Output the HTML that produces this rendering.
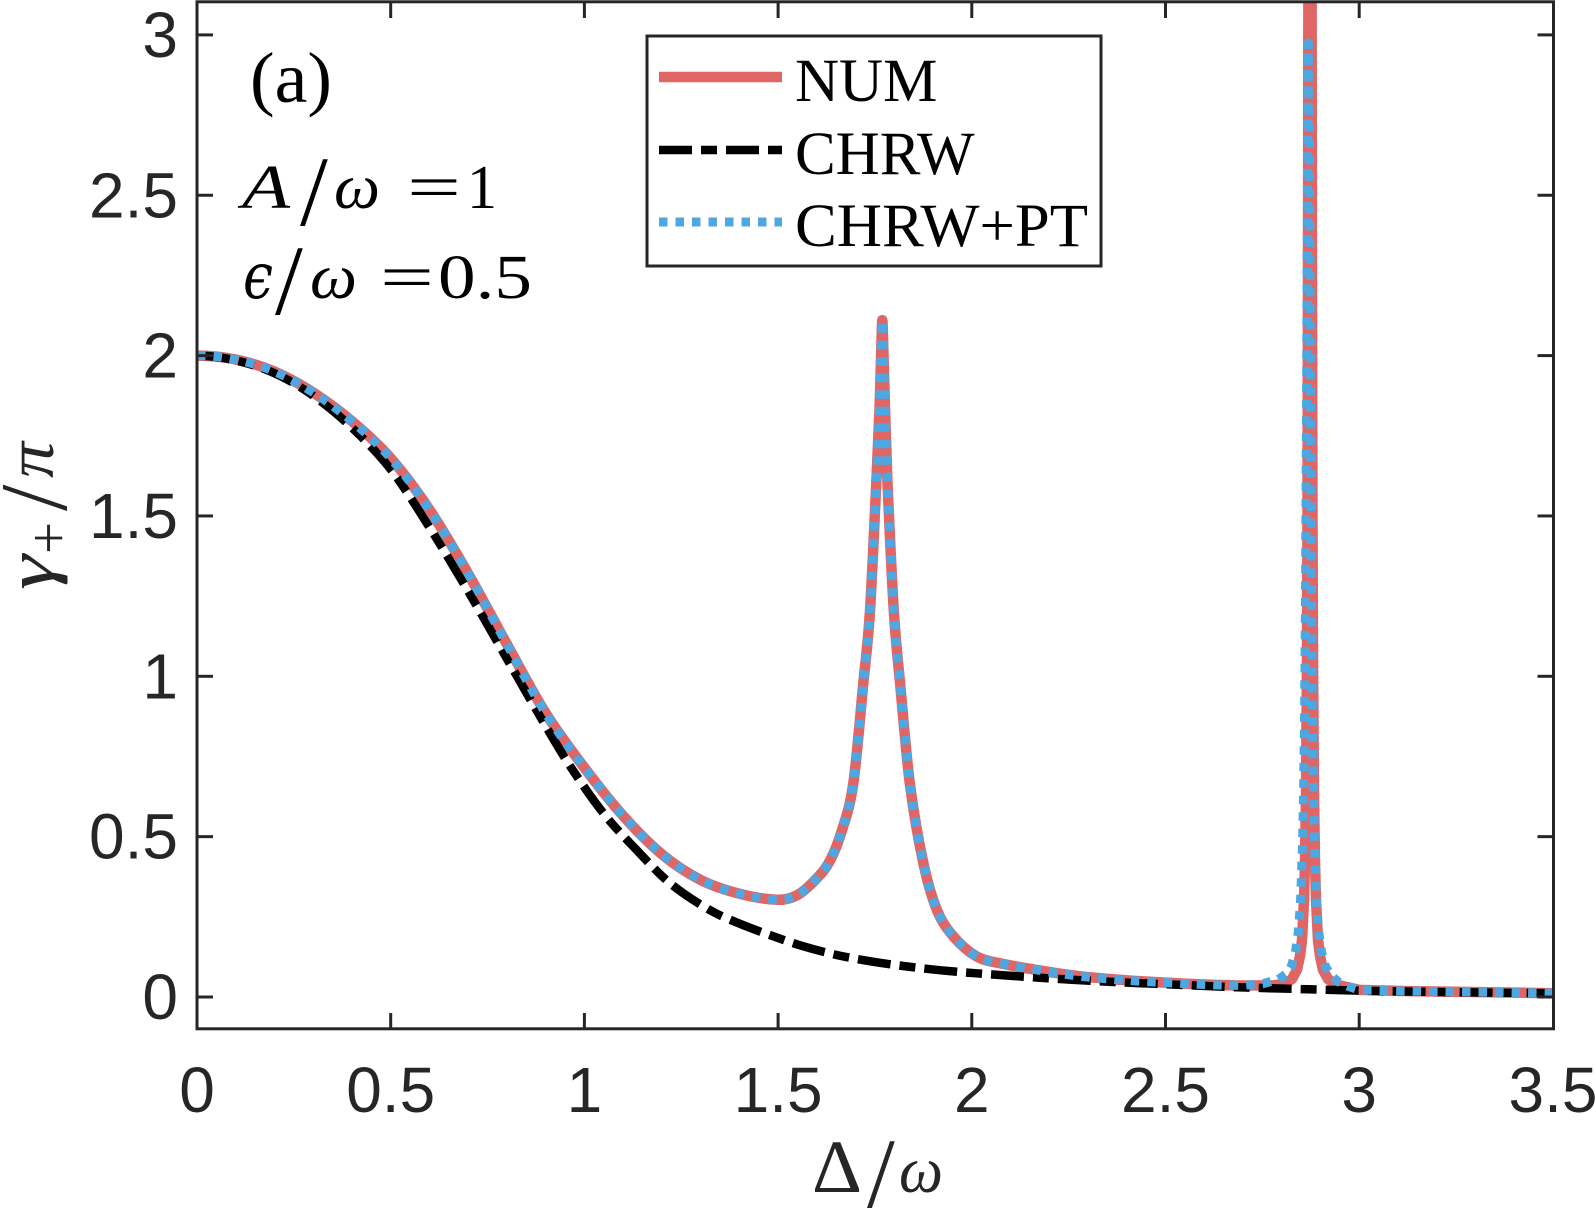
<!DOCTYPE html>
<html>
<head>
<meta charset="utf-8">
<style>
  html, body { margin: 0; padding: 0; background: #ffffff; }
  svg { display: block; }
</style>
</head>
<body>
<svg width="1595" height="1209" viewBox="0 0 1595 1209" xmlns="http://www.w3.org/2000/svg">
  <rect x="0" y="0" width="1595" height="1209" fill="#ffffff"/>
  <defs>
    <clipPath id="ax">
      <rect x="197" y="2" width="1356.5" height="1027"/>
    </clipPath>
  </defs>

  <!-- Curves -->
  <g clip-path="url(#ax)" fill="none" stroke-linejoin="round">
    <!-- NUM -->
    <path stroke="#e06666" stroke-width="10.5" d="M197.0,355.6 C209.9,355.6 222.8,356.84 235.7,359.5 C248.63,362.17 261.57,366.09 274.5,371.6 C287.4,377.09 300.3,384.23 313.2,392.5 C326.13,400.79 339.07,410.34 352.0,421.3 C364.9,432.24 377.8,443.5 390.7,458.2 C403.6,472.9 416.5,490.28 429.4,509.5 C442.33,528.77 455.27,551.23 468.2,573.7 C481.1,596.12 494.0,620.98 506.9,644.2 C519.83,667.47 532.77,692.6 545.7,713.2 C558.6,733.76 571.5,750.6 584.4,767.7 C597.3,784.8 610.2,801.39 623.1,815.8 C636.03,830.25 648.97,843.61 661.9,854.3 C674.8,864.97 687.7,873.34 700.6,879.9 C713.53,886.47 726.47,890.38 739.4,893.7 C752.3,897.01 765.2,899.51 778.1,899.8 C784.57,899.94 791.03,898.59 797.5,895.0 C803.93,891.43 810.37,885.09 816.8,878.3 C821.2,873.66 825.6,869.1 830.0,860.7 C834.0,853.07 838.0,843.47 842.0,830.2 C845.77,817.7 849.53,809.36 853.3,783.4 C856.63,760.43 859.97,717.78 863.3,683.4 C865.5,660.71 867.7,646.37 869.9,612.2 C872.1,578.03 874.3,524.95 876.5,478.4 C877.53,456.54 878.57,434.49 879.6,406.9 C880.1,393.55 880.6,371.64 881.1,355.6 C881.5,342.77 881.9,320.3 882.3,320.3 C882.7,320.3 883.1,342.77 883.5,355.6 C884.0,371.64 884.5,390.75 885.0,406.9 C885.77,431.67 886.53,460.71 887.3,478.4 C889.5,529.15 891.7,576.96 893.9,612.2 C895.97,645.31 898.03,661.14 900.1,683.4 C903.33,718.22 906.57,758.44 909.8,783.4 C914.33,818.4 918.87,842.18 923.4,863.3 C927.93,884.42 932.47,899.08 937.0,910.1 C942.53,923.55 948.07,930.24 953.6,936.7 C961.33,945.73 969.07,952.18 976.8,956.6 C984.57,961.04 992.33,961.52 1000.1,963.3 C1010.03,965.58 1019.97,967.17 1029.9,968.8 C1045.4,971.34 1060.9,973.96 1076.4,975.8 C1093.2,977.79 1110.0,979.02 1126.8,980.3 C1139.7,981.28 1152.6,981.9 1165.5,982.6 C1178.4,983.3 1191.3,984.02 1204.2,984.5 C1217.13,984.98 1230.07,985.35 1243.0,985.5 L1274,985.3 L1285,983.5 L1292,979 L1297,969.7 L1300,956 L1302,940 L1304,900 L1305,862 L1306,795 L1307,655 L1307.5,520 L1308,285 L1308.6,-160 L1311.4,-160 L1312,285 L1312.5,520 L1313,655 L1314,795 L1315,862 L1316,900 L1318,940 L1320,956 L1323,970 L1328,979 L1336,984.5 L1359.2,989.9 C1385,990.7 1411,991.2 1436.7,991.5 C1475,991.9 1514,992.6 1553,993.2"/>
    <!-- CHRW -->
    <path stroke="#000000" stroke-width="8.5" stroke-dasharray="33 9 16 9" stroke-linejoin="miter" d="M197.0,355.6 C209.9,355.6 222.8,357.47 235.7,360.4 C248.63,363.34 261.57,367.31 274.5,373.2 C287.4,379.08 300.3,386.61 313.2,395.7 C326.13,404.81 339.07,415.5 352.0,427.8 C364.9,440.07 377.8,452.83 390.7,469.4 C403.6,485.97 416.5,506.91 429.4,527.2 C442.33,547.54 455.27,569.36 468.2,591.3 C481.1,613.19 494.0,636.28 506.9,658.7 C519.83,681.17 532.77,704.03 545.7,726.0 C553.83,739.82 561.97,753.81 570.1,766.1 C581.2,782.88 592.3,799.2 603.4,813.2 C614.5,827.2 625.6,838.43 636.7,850.1 C647.8,861.77 658.9,874.1 670.0,883.2 C683.3,894.1 696.6,902.36 709.9,910.1 C719.73,915.82 729.57,919.51 739.4,923.6 C749.6,927.84 759.8,931.46 770.0,935.1 C780.43,938.82 790.87,942.58 801.3,945.7 C813.07,949.22 824.83,952.35 836.6,955.0 C848.1,957.59 859.6,959.5 871.1,961.4 C881.8,963.17 892.5,964.63 903.2,966.0 C915.73,967.6 928.27,969.05 940.8,970.3 C952.67,971.48 964.53,972.39 976.4,973.3 C994.23,974.66 1012.07,975.91 1029.9,977.1 C1045.4,978.14 1060.9,979.12 1076.4,980.0 C1093.2,980.95 1110.0,981.81 1126.8,982.6 C1139.7,983.21 1152.6,983.64 1165.5,984.2 C1184.87,985.04 1204.23,986.06 1223.6,986.8 C1239.1,987.39 1254.6,987.77 1270.1,988.2 C1299.8,989.03 1329.5,989.96 1359.2,990.6 C1391.5,991.29 1423.8,991.77 1456.1,992.2 C1488.4,992.63 1520.7,992.87 1553,993.2"/>
    <!-- CHRW+PT -->
    <path stroke="#4ea7e0" stroke-width="9" stroke-dasharray="8.5 8" d="M197.0,355.6 C209.9,355.6 222.8,356.84 235.7,359.5 C248.63,362.17 261.57,366.09 274.5,371.6 C287.4,377.09 300.3,384.23 313.2,392.5 C326.13,400.79 339.07,410.34 352.0,421.3 C364.9,432.24 377.8,443.5 390.7,458.2 C403.6,472.9 416.5,490.28 429.4,509.5 C442.33,528.77 455.27,551.23 468.2,573.7 C481.1,596.12 494.0,620.98 506.9,644.2 C519.83,667.47 532.77,692.6 545.7,713.2 C558.6,733.76 571.5,750.6 584.4,767.7 C597.3,784.8 610.2,801.39 623.1,815.8 C636.03,830.25 648.97,843.61 661.9,854.3 C674.8,864.97 687.7,873.34 700.6,879.9 C713.53,886.47 726.47,890.38 739.4,893.7 C752.3,897.01 765.2,899.51 778.1,899.8 C784.57,899.94 791.03,898.59 797.5,895.0 C803.93,891.43 810.37,885.09 816.8,878.3 C821.2,873.66 825.6,869.1 830.0,860.7 C834.0,853.07 838.0,843.47 842.0,830.2 C845.77,817.7 849.53,809.36 853.3,783.4 C856.63,760.43 859.97,717.78 863.3,683.4 C865.5,660.71 867.7,646.37 869.9,612.2 C872.1,578.03 874.3,524.95 876.5,478.4 C877.53,456.54 878.57,434.49 879.6,406.9 C880.1,393.55 880.6,371.64 881.1,355.6 C881.5,342.77 881.9,320.3 882.3,320.3 C882.7,320.3 883.1,342.77 883.5,355.6 C884.0,371.64 884.5,390.75 885.0,406.9 C885.77,431.67 886.53,460.71 887.3,478.4 C889.5,529.15 891.7,576.96 893.9,612.2 C895.97,645.31 898.03,661.14 900.1,683.4 C903.33,718.22 906.57,758.44 909.8,783.4 C914.33,818.4 918.87,842.18 923.4,863.3 C927.93,884.42 932.47,899.08 937.0,910.1 C942.53,923.55 948.07,930.24 953.6,936.7 C961.33,945.73 969.07,952.18 976.8,956.6 C984.57,961.04 992.33,961.52 1000.1,963.3 C1010.03,965.58 1019.97,967.17 1029.9,968.8 C1045.4,971.34 1060.9,973.96 1076.4,975.8 C1093.2,977.79 1110.0,979.02 1126.8,980.3 C1139.7,981.28 1152.6,981.9 1165.5,982.6 C1178.4,983.3 1191.3,984.02 1204.2,984.5 C1217.13,984.98 1230.07,985.35 1243.0,985.5 L1263.5,983.5 L1278.5,979.3 L1286.5,973.7 L1291.5,965.8 L1295.5,952.1 L1298.5,930.3 L1300.5,901.8 L1302.5,846.3 L1303.5,797.2 L1304.5,720.9 L1305.5,599.3 L1306.5,410.8 L1307.5,173.1 L1308.5,42.9 L1309.5,173.1 L1310.5,410.8 L1311.5,599.3 L1312.5,720.9 L1313.5,797.2 L1314.5,846.3 L1316.5,901.8 L1318.5,930.3 L1321.5,952.1 L1325.5,966.5 L1330.5,975 L1338.5,982 L1350,987 L1359.2,989.9 C1385,990.7 1411,991.2 1436.7,991.5 C1475,991.9 1514,992.6 1553,993.2"/>
  </g>

  <!-- Axes box -->
  <rect x="197" y="1.8" width="1356.5" height="1027" fill="none" stroke="#262626" stroke-width="3"/>

  <!-- Ticks -->
  <g stroke="#262626" stroke-width="3">
    <line x1="390.7" y1="1029" x2="390.7" y2="1013"/>
    <line x1="584.4" y1="1029" x2="584.4" y2="1013"/>
    <line x1="778.1" y1="1029" x2="778.1" y2="1013"/>
    <line x1="971.8" y1="1029" x2="971.8" y2="1013"/>
    <line x1="1165.5" y1="1029" x2="1165.5" y2="1013"/>
    <line x1="1359.2" y1="1029" x2="1359.2" y2="1013"/>
    <line x1="390.7" y1="2" x2="390.7" y2="18"/>
    <line x1="584.4" y1="2" x2="584.4" y2="18"/>
    <line x1="778.1" y1="2" x2="778.1" y2="18"/>
    <line x1="971.8" y1="2" x2="971.8" y2="18"/>
    <line x1="1165.5" y1="2" x2="1165.5" y2="18"/>
    <line x1="1359.2" y1="2" x2="1359.2" y2="18"/>
    <line x1="197" y1="997" x2="213" y2="997"/>
    <line x1="197" y1="836.65" x2="213" y2="836.65"/>
    <line x1="197" y1="676.3" x2="213" y2="676.3"/>
    <line x1="197" y1="515.95" x2="213" y2="515.95"/>
    <line x1="197" y1="355.6" x2="213" y2="355.6"/>
    <line x1="197" y1="195.25" x2="213" y2="195.25"/>
    <line x1="197" y1="34.9" x2="213" y2="34.9"/>
    <line x1="1553.5" y1="997" x2="1537.5" y2="997"/>
    <line x1="1553.5" y1="836.65" x2="1537.5" y2="836.65"/>
    <line x1="1553.5" y1="676.3" x2="1537.5" y2="676.3"/>
    <line x1="1553.5" y1="515.95" x2="1537.5" y2="515.95"/>
    <line x1="1553.5" y1="355.6" x2="1537.5" y2="355.6"/>
    <line x1="1553.5" y1="195.25" x2="1537.5" y2="195.25"/>
    <line x1="1553.5" y1="34.9" x2="1537.5" y2="34.9"/>
  </g>

  <!-- Tick labels -->
  <g font-family="'Liberation Sans', 'DejaVu Sans', sans-serif" font-size="64" fill="#262626">
    <g text-anchor="end">
      <text x="178" y="1019">0</text>
      <text x="178" y="858.7">0.5</text>
      <text x="178" y="698.3">1</text>
      <text x="178" y="538">1.5</text>
      <text x="178" y="377.6">2</text>
      <text x="178" y="217.3">2.5</text>
      <text x="178" y="56.9">3</text>
    </g>
    <g text-anchor="middle">
      <text x="197" y="1112">0</text>
      <text x="390.7" y="1112">0.5</text>
      <text x="584.4" y="1112">1</text>
      <text x="778.1" y="1112">1.5</text>
      <text x="971.8" y="1112">2</text>
      <text x="1165.5" y="1112">2.5</text>
      <text x="1359.2" y="1112">3</text>
      <text x="1553" y="1112">3.5</text>
    </g>
  </g>

  <!-- X label: Δ/ω -->
  <g font-family="'Liberation Serif', 'DejaVu Serif', serif" fill="#262626">
    <text x="812" y="1192" font-size="75" textLength="50" lengthAdjust="spacingAndGlyphs">Δ</text>
    <text x="867" y="1207" font-size="100">/</text>
    <text x="899" y="1192" font-size="66" font-style="italic" textLength="44" lengthAdjust="spacingAndGlyphs">ω</text>
  </g>

  <!-- Y label: γ+/π rotated -->
  <g transform="translate(53,516) rotate(-90)" font-family="'Liberation Serif', 'DejaVu Serif', serif" fill="#262626">
    <text x="-74" y="0" font-size="68" font-style="italic" textLength="35" lengthAdjust="spacingAndGlyphs">γ</text>
    <text x="-38" y="15" font-size="58" textLength="32" lengthAdjust="spacingAndGlyphs">+</text>
    <text x="5" y="13" font-size="95">/</text>
    <text x="38" y="0" font-size="68" font-style="italic" textLength="36" lengthAdjust="spacingAndGlyphs">π</text>
  </g>

  <!-- Annotations -->
  <g font-family="'Liberation Serif', 'DejaVu Serif', serif" fill="#000000">
    <text x="250" y="102" font-size="72" textLength="82" lengthAdjust="spacingAndGlyphs">(a)</text>

    <text x="242" y="208" font-size="62" font-style="italic" textLength="48" lengthAdjust="spacingAndGlyphs">A</text>
    <text x="300" y="225" font-size="100">/</text>
    <text x="334" y="208" font-size="64" font-style="italic" textLength="46" lengthAdjust="spacingAndGlyphs">ω</text>
    <text x="407" y="208" font-size="62" textLength="54" lengthAdjust="spacingAndGlyphs">=</text>
    <text x="467" y="208" font-size="62" textLength="30" lengthAdjust="spacingAndGlyphs">1</text>

    <text x="243" y="298" font-size="64" font-style="italic" font-family="'DejaVu Serif', 'Liberation Serif', serif" textLength="30" lengthAdjust="spacingAndGlyphs">ϵ</text>
    <text x="275" y="314" font-size="100">/</text>
    <text x="310" y="298" font-size="64" font-style="italic" textLength="47" lengthAdjust="spacingAndGlyphs">ω</text>
    <text x="380" y="298" font-size="62" textLength="54" lengthAdjust="spacingAndGlyphs">=</text>
    <text x="438" y="298" font-size="62" textLength="94" lengthAdjust="spacingAndGlyphs">0.5</text>
  </g>

  <!-- Legend -->
  <rect x="647" y="36" width="454" height="230" fill="#ffffff" stroke="#262626" stroke-width="3"/>
  <line x1="659" y1="77" x2="782" y2="77" stroke="#e06666" stroke-width="10.5"/>
  <line x1="659" y1="150" x2="782" y2="150" stroke="#000000" stroke-width="8.5" stroke-dasharray="33 9 16 9"/>
  <line x1="659" y1="222" x2="782" y2="222" stroke="#4ea7e0" stroke-width="9" stroke-dasharray="8.5 8"/>
  <g font-family="'Liberation Serif', 'DejaVu Serif', serif" font-size="61" fill="#000000">
    <text x="795" y="101">NUM</text>
    <text x="795" y="174">CHRW</text>
    <text x="795" y="246" textLength="293" lengthAdjust="spacingAndGlyphs">CHRW+PT</text>
  </g>
</svg>
</body>
</html>
